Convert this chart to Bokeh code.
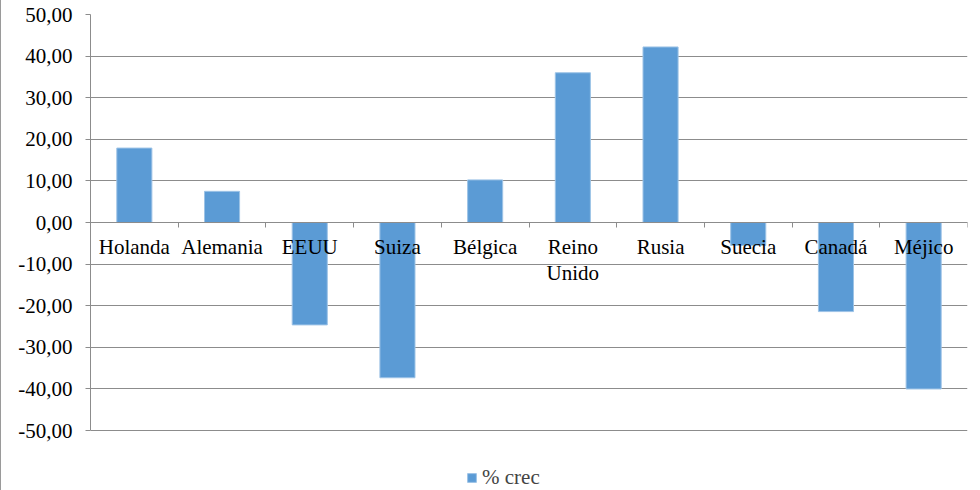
from bokeh.plotting import figure
from bokeh.models import (FixedTicker, Range1d, Legend, LegendItem, ColumnDataSource,
                          LinearAxis, CustomJSTickFormatter)
from bokeh.embed import file_html
from bokeh.resources import INLINE

categories = ["Holanda", "Alemania", "EEUU", "Suiza", "Bélgica", "Reino\nUnido",
              "Rusia", "Suecia", "Canadá", "Méjico"]
values = [17.9, 7.5, -24.6, -37.3, 10.25, 36.0, 42.2, -5.5, -21.4, -40.0]
y_ticks = [-50, -40, -30, -20, -10, 0, 10, 20, 30, 40, 50]
y_tick_labels = ["-50,00", "-40,00", "-30,00", "-20,00", "-10,00", "0,00",
                 "10,00", "20,00", "30,00", "40,00", "50,00"]
series_name = "% crec"

FONT = "Liberation Serif"
FS = "21px"
GRID = "#8c8c8c"

n = len(categories)
centers = [i + 0.5 for i in range(n)]
src = ColumnDataSource(dict(x=centers, top=values, cat=categories))

# extra room below -50 inside the frame is used for the legend
p = figure(width=979, height=490, output_backend="svg", toolbar_location=None,
           x_range=Range1d(0, n), y_range=Range1d(-64.4, 50),
           y_axis_location=None,
           min_border_left=89, min_border_right=13, min_border_top=14, min_border_bottom=0,
           styles={"border-left": "1px solid #9a9a9a"})
p.outline_line_color = None
p.background_fill_color = "white"
p.border_fill_color = "white"

r = p.vbar(x="x", top="top", bottom=0, width=0.4, source=src,
           fill_color="#5B9BD5", line_color="#9DC3E6", line_width=1)

ylab = {str(t): l for t, l in zip(y_ticks, y_tick_labels)}
yaxis = LinearAxis(
    ticker=FixedTicker(ticks=y_ticks),
    formatter=CustomJSTickFormatter(args=dict(labels=ylab),
                                    code="return labels[String(Math.round(tick))];"),
    bounds=(-50, 50),
    major_label_text_font=FONT,
    major_label_text_font_size=FS,
    major_label_text_color="black",
    axis_line_color=GRID,
    major_tick_line_color=GRID,
    major_tick_out=5, major_tick_in=0,
    minor_tick_line_color=None,
    major_label_standoff=13,
)
p.add_layout(yaxis, "left")

# x axis at zero
p.xaxis.fixed_location = 0
p.xaxis.ticker = FixedTicker(ticks=centers, minor_ticks=list(range(n + 1)))
p.xaxis.major_label_overrides = {c: l for c, l in zip(centers, categories)}
p.xaxis.major_label_text_font = FONT
p.xaxis.major_label_text_font_size = FS
p.xaxis.major_label_text_color = "black"
p.xaxis.major_label_text_line_height = 1.1
p.xaxis.major_tick_line_color = None
p.xaxis.major_tick_out = 0
p.xaxis.major_tick_in = 0
p.xaxis.minor_tick_line_color = GRID
p.xaxis.minor_tick_out = 5
p.xaxis.minor_tick_in = 0
p.xaxis.axis_line_color = GRID
p.xaxis.major_label_standoff = 7

p.xgrid.grid_line_color = None
p.ygrid.ticker = FixedTicker(ticks=y_ticks)
p.ygrid.grid_line_color = GRID
p.ygrid.grid_line_width = 1

legend = Legend(items=[LegendItem(label=series_name, renderers=[r])],
                location=(376, 0), orientation="horizontal",
                label_text_font=FONT, label_text_font_size=FS,
                glyph_width=11, glyph_height=11, label_standoff=5,
                padding=0, margin=0, border_line_color=None,
                background_fill_alpha=0)
p.add_layout(legend, "center")

open("out.html", "w").write(file_html(p, INLINE))
